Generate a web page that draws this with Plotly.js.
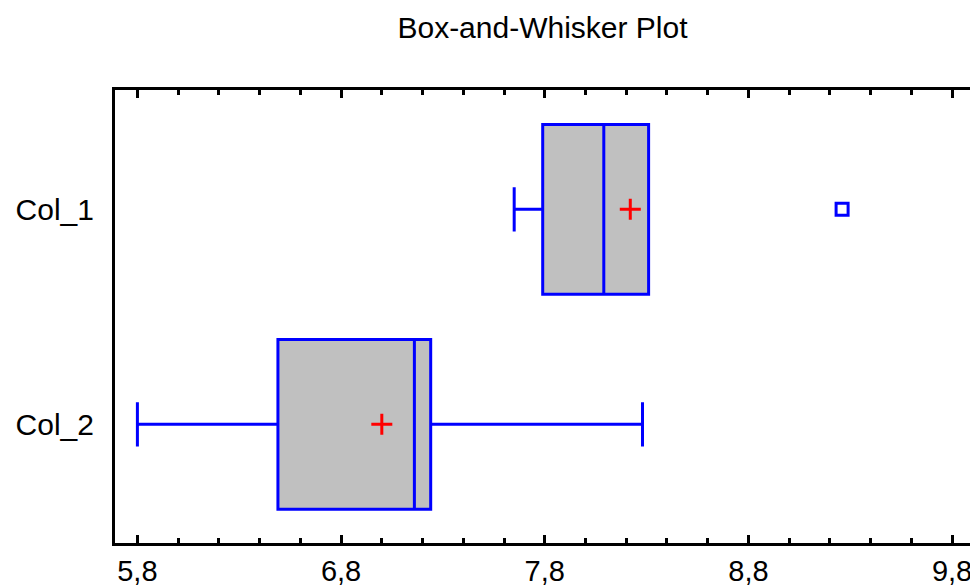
<!DOCTYPE html>
<html>
<head>
<meta charset="utf-8">
<script src="https://cdn.plot.ly/plotly-3.0.1.min.js"></script>
<style>
  html, body { margin: 0; padding: 0; background: #ffffff; overflow: hidden; }
  #chart { width: 970px; height: 585px; }
</style>
</head>
<body>
<div id="chart"></div>
<script>
// Summary statistics for each column (horizontal box-and-whisker)
const categories = ['Col_1', 'Col_2'];
const positions = [1, 0];
const lowerWhisker = [7.65, 5.80];
const q1 = [7.79, 6.49];
const median = [8.09, 7.16];
const q3 = [8.31, 7.24];
const upperWhisker = [8.31, 8.28];
const means = [8.22, 7.00];

// Outside points
const outlierX = [9.26];
const outlierY = [1];

const fontFamily = '"Liberation Sans", Arial, sans-serif';

const boxes = {
  type: 'box',
  orientation: 'h',
  y: positions,
  q1: q1,
  median: median,
  q3: q3,
  lowerfence: lowerWhisker,
  upperfence: upperWhisker,
  width: 0.79,
  whiskerwidth: 0.26,
  fillcolor: '#c0c0c0',
  line: { color: '#0000ff', width: 3 },
  boxpoints: false,
  hoverinfo: 'x',
  showlegend: false
};

const meanMarks = {
  type: 'scatter',
  mode: 'markers',
  x: means,
  y: positions,
  marker: { symbol: 'cross-thin', size: 15, line: { color: '#ff0000', width: 3 } },
  hoverinfo: 'x',
  showlegend: false
};

const outliers = {
  type: 'scatter',
  mode: 'markers',
  x: outlierX,
  y: outlierY,
  marker: { symbol: 'square-open', size: 12, color: '#0000ff', line: { color: '#0000ff', width: 3 } },
  hoverinfo: 'x',
  showlegend: false
};

const layout = {
  width: 970,
  height: 585,
  margin: { l: 115, r: 0, t: 90, b: 42 },
  paper_bgcolor: '#ffffff',
  plot_bgcolor: '#ffffff',
  separators: ',.',
  font: { family: fontFamily, size: 30, color: '#000000' },
  title: {
    text: 'Box-and-Whisker Plot',
    font: { family: fontFamily, size: 30, color: '#000000' },
    x: 0.5, xref: 'paper', xanchor: 'center',
    y: 1 - 27 / 585, yref: 'container', yanchor: 'middle'
  },
  xaxis: {
    range: [5.69, 9.888],
    tick0: 5.8,
    dtick: 1,
    tickformat: '.1f',
    ticks: 'inside',
    ticklen: 8,
    tickwidth: 3,
    tickcolor: '#000000',
    minor: { dtick: 0.2, tick0: 5.8, ticks: 'inside', ticklen: 5, tickwidth: 3, tickcolor: '#000000' },
    showline: true,
    linecolor: '#000000',
    linewidth: 3,
    mirror: 'ticks',
    showgrid: false,
    zeroline: false,
    fixedrange: true,
    ticklabeloverflow: 'allow',
    tickfont: { family: fontFamily, size: 29, color: '#000000' }
  },
  yaxis: {
    range: [-0.552, 1.555],
    tickvals: positions,
    ticktext: categories,
    ticks: '',
    showline: true,
    linecolor: '#000000',
    linewidth: 3,
    mirror: false,
    showgrid: false,
    zeroline: false,
    fixedrange: true,
    ticklabelstandoff: 12,
    tickfont: { family: fontFamily, size: 30, color: '#000000' }
  }
};

Plotly.newPlot('chart', [boxes, meanMarks, outliers], layout, { displayModeBar: false, staticPlot: true });
</script>
</body>
</html>
